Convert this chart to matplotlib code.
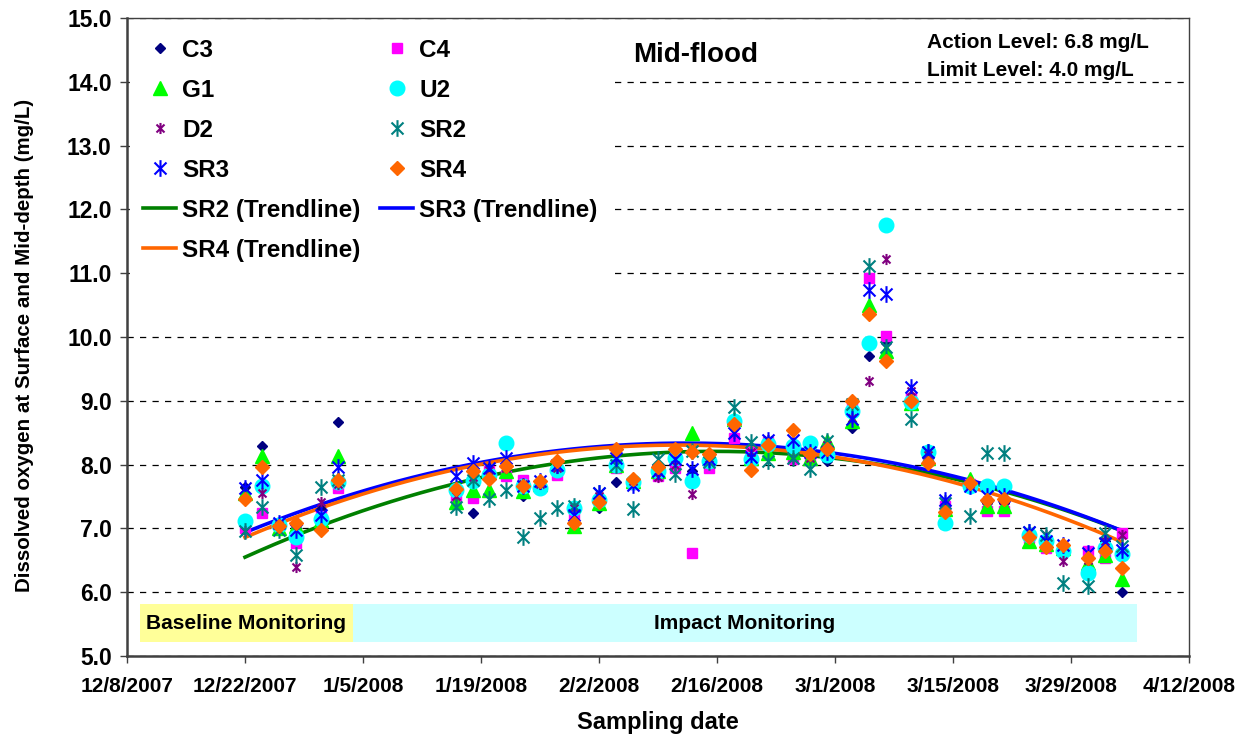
import matplotlib
matplotlib.use('Agg')
import matplotlib.pyplot as plt
import matplotlib.dates as mdates
from matplotlib.path import Path
from matplotlib.ticker import FixedLocator, FuncFormatter
import numpy as np

plt.rcParams['font.family'] = ['Liberation Sans', 'DejaVu Sans']
plt.rcParams['font.weight'] = 'bold'

# sampling dates
dates = ['2007-12-22', '2007-12-24', '2007-12-26', '2007-12-28', '2007-12-31', '2008-01-02',
         '2008-01-16', '2008-01-18', '2008-01-20', '2008-01-22', '2008-01-24', '2008-01-26',
         '2008-01-28', '2008-01-30', '2008-02-02', '2008-02-04', '2008-02-06', '2008-02-09',
         '2008-02-11', '2008-02-13', '2008-02-15', '2008-02-18', '2008-02-20', '2008-02-22',
         '2008-02-25', '2008-02-27', '2008-02-29', '2008-03-03', '2008-03-05', '2008-03-07',
         '2008-03-10', '2008-03-12', '2008-03-14', '2008-03-17', '2008-03-19', '2008-03-21',
         '2008-03-24', '2008-03-26', '2008-03-28', '2008-03-31', '2008-04-02', '2008-04-04']

# dissolved oxygen (mg/L) per station
c3 = [7.65, 8.29, 7.05, 7.00, 7.30, 8.67, 7.60, 7.24, 7.95, 7.90, 7.50, 7.70, 7.95, 7.25,
      7.32, 7.72, 7.75, 7.85, 8.05, 7.90, 8.10, 8.45, 8.15, 8.30, 8.10, 8.05, 8.06,
      8.57, 9.71, 9.90, 9.05, 8.05, 7.35, 7.65, 7.40, 7.40, 6.90, 6.75, 6.70, 6.60, 6.80, 6.01]
c4 = [7.00, 7.24, 7.05, 6.77, 7.20, 7.63, 7.50, 7.47, 7.90, 7.82, 7.76, 7.70, 7.84, 7.21,
      7.45, 7.95, 7.70, 7.82, 7.95, 6.62, 7.95, 8.42, 8.20, 8.35, 8.08, 8.10, 8.20,
      8.90, 10.92, 10.02, 9.05, 8.10, 7.35, 7.70, 7.28, 7.28, 6.85, 6.70, 6.70, 6.64, 6.53, 6.93]
g1 = [7.55, 8.14, 7.00, 7.04, 7.13, 8.13, 7.42, 7.60, 7.60, 7.90, 7.58, 7.70, 8.00, 7.04,
      7.40, 8.00, 7.75, 7.90, 8.20, 8.50, 8.15, 8.72, 8.10, 8.18, 8.20, 8.10, 8.37,
      8.68, 10.50, 9.78, 8.96, 8.10, 7.30, 7.77, 7.35, 7.35, 6.80, 6.75, 6.70, 6.46, 6.59, 6.21]
u2 = [7.12, 7.66, 7.05, 6.87, 7.14, 7.72, 7.60, 7.74, 7.84, 8.34, 7.67, 7.63, 7.92, 7.32,
      7.45, 8.00, 7.72, 7.90, 8.10, 7.75, 8.05, 8.68, 8.08, 8.32, 8.29, 8.34, 8.15,
      8.84, 9.91, 11.76, 8.98, 8.19, 7.08, 7.66, 7.66, 7.66, 6.90, 6.80, 6.65, 6.30, 6.70, 6.60]
d2 = [6.96, 7.56, 7.05, 6.40, 7.41, 7.70, 7.50, 7.80, 7.92, 7.95, 7.70, 7.70, 7.95, 7.32,
      7.50, 8.10, 7.75, 7.80, 8.00, 7.54, 8.10, 8.50, 8.20, 8.38, 8.10, 8.10, 8.30,
      8.73, 9.31, 11.23, 9.15, 8.15, 7.40, 7.70, 7.45, 7.45, 6.95, 6.90, 6.49, 6.50, 6.80, 6.90]
sr2 = [6.96, 7.34, 6.98, 6.58, 7.65, 7.76, 7.34, 7.76, 7.46, 7.60, 6.87, 7.16, 7.32, 7.35,
       7.55, 8.00, 7.30, 8.08, 7.85, 8.21, 8.04, 8.91, 8.35, 8.05, 8.10, 7.93, 8.37,
       8.95, 11.12, 9.85, 8.71, 8.19, 7.40, 7.20, 8.18, 8.18, 6.95, 6.90, 6.14, 6.09, 6.93, 6.72]
sr3 = [7.63, 7.76, 7.08, 6.98, 7.21, 7.97, 7.82, 8.03, 7.95, 8.10, 7.67, 7.74, 8.00, 7.21,
       7.55, 8.10, 7.68, 7.90, 8.08, 7.93, 8.08, 8.50, 8.12, 8.38, 8.38, 8.20, 8.20,
       8.71, 10.74, 10.67, 9.21, 8.19, 7.45, 7.66, 7.50, 7.50, 6.95, 6.80, 6.74, 6.62, 6.77, 6.66]
sr4 = [7.46, 7.96, 7.04, 7.09, 6.97, 7.76, 7.61, 7.90, 7.77, 7.98, 7.67, 7.74, 8.05, 7.09,
       7.42, 8.24, 7.77, 7.96, 8.25, 8.20, 8.17, 8.63, 7.91, 8.30, 8.54, 8.16, 8.24,
       8.99, 10.36, 9.62, 9.00, 8.03, 7.25, 7.71, 7.45, 7.46, 6.86, 6.71, 6.74, 6.53, 6.65, 6.38]

xticks = ['2007-12-08', '2007-12-22', '2008-01-05', '2008-01-19', '2008-02-02',
          '2008-02-16', '2008-03-01', '2008-03-15', '2008-03-29', '2008-04-12']

x = mdates.date2num(np.array(dates, dtype='datetime64[D]'))
xt = mdates.date2num(np.array(xticks, dtype='datetime64[D]'))

# excel-like star (vertical bar + X)
k = 0.72
star = Path([(0, -1), (0, 1), (-k, -k), (k, k), (-k, k), (k, -k)],
            [Path.MOVETO, Path.LINETO] * 3)

fig = plt.figure(figsize=(12.48, 7.4), dpi=100)
ax = fig.add_axes([127 / 1248, 84 / 740, 1062 / 1248, 638 / 740])

h = {}
h['C3'], = ax.plot(x, c3, ls='none', marker='D', ms=5, color='#000080', label='C3', zorder=4)
h['C4'], = ax.plot(x, c4, ls='none', marker='s', ms=7, color='#FF00FF', label='C4', zorder=4)
h['G1'], = ax.plot(x, g1, ls='none', marker='^', ms=10, color='#00FF00', label='G1', zorder=4)
h['U2'], = ax.plot(x, u2, ls='none', marker='o', ms=10.5, color='#00FFFF', label='U2', zorder=4)
h['D2'], = ax.plot(x, d2, ls='none', marker=star, ms=8, mfc='none', mec='#800080', mew=1.5,
                   label='D2', zorder=4)
h['SR2'], = ax.plot(x, sr2, ls='none', marker=star, ms=12, mfc='none', mec='#008080', mew=1.5,
                    label='SR2', zorder=4)
h['SR3'], = ax.plot(x, sr3, ls='none', marker=star, ms=12, mfc='none', mec='#0000FF', mew=1.5,
                    label='SR3', zorder=4)
h['SR4'], = ax.plot(x, sr4, ls='none', marker='D', ms=7.5, color='#FF6600', label='SR4', zorder=4)

# 2nd order polynomial trendlines
xx = np.linspace(x[0], x[-1], 300)
for name, vals, col in [('SR2', sr2, '#008000'), ('SR3', sr3, '#0000FF'), ('SR4', sr4, '#FF6600')]:
    p = np.polyfit(x - x[0], vals, 2)
    h[name + 'T'], = ax.plot(xx, np.polyval(p, xx - x[0]), color=col, lw=2.6,
                             label=name + ' (Trendline)', zorder=3)

# monitoring period bands
x0 = mdates.date2num(np.datetime64('2007-12-08'))
ax.axvspan(x0 + 1.6, x0 + 26.8, ymin=0.022, ymax=0.0815, color='#FFFF99', lw=0, zorder=1)
ax.axvspan(x0 + 26.8, x0 + 119.8, ymin=0.022, ymax=0.0815, color='#CCFFFF', lw=0, zorder=1)
ax.text(x0 + 2.2, 5.51, 'Baseline Monitoring', fontsize=15, ha='left', va='center', zorder=2)
ax.text(x0 + 73.3, 5.51, 'Impact Monitoring', fontsize=15, ha='center', va='center', zorder=2)

ax.text(0.535, 0.942, 'Mid-flood', transform=ax.transAxes, fontsize=20, ha='center', va='center')
ax.text(0.753, 0.962, 'Action Level: 6.8 mg/L', transform=ax.transAxes, fontsize=15,
        ha='left', va='center')
ax.text(0.753, 0.918, 'Limit Level: 4.0 mg/L', transform=ax.transAxes, fontsize=15,
        ha='left', va='center')

ax.set_xlim(xt[0], xt[-1])
ax.set_ylim(5, 15)
ax.xaxis.set_major_locator(FixedLocator(xt))
ax.xaxis.set_major_formatter(FuncFormatter(
    lambda v, pos: '{d.month}/{d.day}/{d.year}'.format(d=mdates.num2date(v))))
ax.set_yticks(np.arange(5, 15.1, 1.0))
ax.yaxis.set_major_formatter(FuncFormatter(lambda v, pos: '%.1f' % v))
ax.tick_params(axis='x', direction='out', length=5, width=1, labelsize=15, pad=10, colors='#404040',
               labelcolor='black')
ax.tick_params(axis='y', direction='out', length=5, width=1, labelsize=16.5, pad=6, colors='#404040',
               labelcolor='black')
ax.yaxis.grid(True, color='black', ls=(0, (5, 5)), lw=0.9, zorder=0)
ax.set_axisbelow(True)
for s in ['left', 'bottom']:
    ax.spines[s].set_linewidth(1.8)
    ax.spines[s].set_color('#404040')
for s in ['top', 'right']:
    ax.spines[s].set_linewidth(1.0)
    ax.spines[s].set_color('#404040')

ax.set_xlabel('Sampling date', fontsize=17, fontweight='bold')
ax.xaxis.set_label_coords(0.5, -0.086)
ax.set_ylabel('Dissolved oxygen at Surface and Mid-depth (mg/L)', fontsize=14.8, fontweight='bold')
ax.yaxis.set_label_coords(-0.088, 0.486)

order = ['C3', 'G1', 'D2', 'SR3', 'SR2T', 'SR4T', 'C4', 'U2', 'SR2', 'SR4', 'SR3T']
leg = ax.legend([h[k] for k in order], [h[k].get_label() for k in order], ncol=2,
                loc='upper left', bbox_to_anchor=(-0.004, 1), fontsize=17.5, numpoints=1,
                handlelength=1.35, handletextpad=0.25, columnspacing=0.8, labelspacing=0.7,
                borderpad=0.55, borderaxespad=0.3, frameon=True, fancybox=False,
                edgecolor='white', facecolor='white', framealpha=1)
leg.set_zorder(5)

fig.savefig('out.png', dpi=100)
